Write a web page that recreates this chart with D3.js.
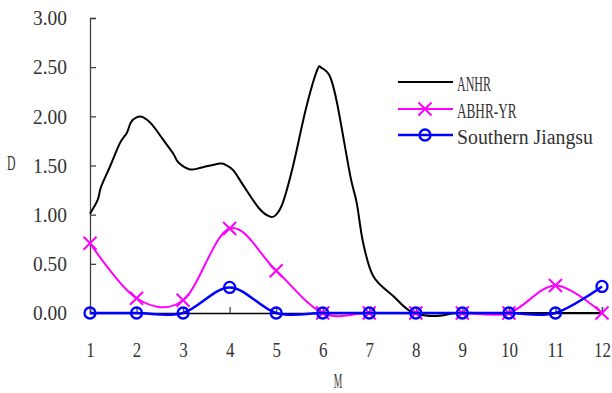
<!DOCTYPE html>
<html>
<head>
<meta charset="utf-8">
<script src="https://cdn.jsdelivr.net/npm/d3@7"></script>
<style>
  html, body { margin: 0; padding: 0; background: #fff; }
  svg { display: block; }
</style>
</head>
<body>
<svg class="chart" width="612" height="393"></svg>
<script>
// months on the x axis
var months = [1, 2, 3, 4, 5, 6, 7, 8, 9, 10, 11, 12];
var yTicks = [0, 0.5, 1, 1.5, 2, 2.5, 3];

// ANHR is a dense series (month position, D)
var anhrM = [1.00, 1.165, 1.236, 1.43, 1.645, 1.79, 1.88, 2.00, 2.145, 2.325, 2.575, 2.79, 2.90,
             3.15, 3.40, 3.79, 3.90, 4.08, 4.29, 4.64, 4.87, 5.00, 5.15, 5.37, 5.64, 5.88, 5.98,
             6.16, 6.31, 6.59, 6.73, 6.87, 7.09, 7.52, 7.875, 8.30, 8.63, 8.88, 9.5, 10, 11, 12];
var anhrD = [1.01, 1.15, 1.28, 1.49, 1.73, 1.83, 1.94, 1.99, 1.99, 1.92, 1.76, 1.62, 1.53,
             1.46, 1.48, 1.52, 1.51, 1.45, 1.30, 1.06, 0.98, 1.00, 1.13, 1.51, 2.08, 2.47, 2.49,
             2.40, 2.13, 1.40, 1.12, 0.71, 0.37, 0.17, 0.02, -0.03, -0.02, 0.00, 0.00, 0.00, 0.00, 0.00];

// monthly series with markers
var abhrYR = [0.71, 0.15, 0.13, 0.86, 0.43, 0, 0, 0, 0, 0, 0.28, 0];
var southernJiangsu = [0, 0, 0, 0.26, 0, 0, 0, 0, 0, 0, 0, 0.27];

var seriesNames = ["ANHR", "ABHR-YR", "Southern Jiangsu"];
var seriesColors = ["#000000", "#ff00ff", "#0000ff"];

var svg = d3.select("svg.chart");
var charW = 8.5; // SimSun-like half width glyph advance

// tall, narrow glyphs like the original font
function fitText(sel) {
    sel.each(function() {
        var t = d3.select(this);
        t.style("font-family", "'Liberation Serif', 'DejaVu Serif', serif")
         .style("font-size", "20px")
         .style("fill", "#333")
         .attr("textLength", t.text().length * charW)
         .attr("lengthAdjust", "spacingAndGlyphs");
    });
}

var x = d3.scaleLinear().domain([1, 12]).range([90, 602]);
var y = d3.scaleLinear().domain([0, 3]).range([313, 18]);

// axes
var yAxis = d3.axisLeft(y).tickValues(yTicks).tickSize(-6).tickPadding(23)
    .tickFormat(d3.format(".2f"));
var gy = svg.append("g").attr("transform", "translate(90,0)").call(yAxis);
gy.attr("font-family", null).attr("font-size", null);
gy.select(".domain").attr("stroke", "#444").attr("stroke-width", 1.3);
gy.selectAll(".tick line").attr("stroke", "#444").attr("stroke-width", 1.3);
gy.selectAll("text").attr("dy", "0.34em").call(fitText);

var xAxis = d3.axisBottom(x).tickValues(months).tickSize(-6).tickPadding(30)
    .tickFormat(d3.format("d"));
var gx = svg.append("g").attr("transform", "translate(0,313)").call(xAxis);
gx.attr("font-family", null).attr("font-size", null);
gx.select(".domain").attr("stroke", "#000").attr("stroke-width", 1.3);
gx.selectAll(".tick line").attr("stroke", "#444").attr("stroke-width", 1.3);
gx.selectAll("text").attr("dy", "0.71em").call(fitText);

// axis titles
svg.append("text").attr("x", 338).attr("y", 388).attr("text-anchor", "middle").text("M").call(fitText);
svg.append("text").attr("x", 7).attr("y", 170).text("D").call(fitText);

var line = d3.line().curve(d3.curveCardinal.tension(0));

// ANHR
svg.append("path")
    .attr("d", line(anhrM.map(function(m, i) { return [x(m), y(anhrD[i])]; })))
    .attr("fill", "none").attr("stroke", seriesColors[0]).attr("stroke-width", 2);

// ABHR-YR
svg.append("path")
    .attr("d", line(months.map(function(m, i) { return [x(m), y(abhrYR[i])]; })))
    .attr("fill", "none").attr("stroke", seriesColors[1]).attr("stroke-width", 2);

function cross(g, cx, cy, color) {
    var s = 6.5;
    g.append("path")
        .attr("d", "M" + (cx - s) + "," + (cy - s) + "L" + (cx + s) + "," + (cy + s) +
                   "M" + (cx - s) + "," + (cy + s) + "L" + (cx + s) + "," + (cy - s))
        .attr("stroke", color).attr("stroke-width", 2).attr("fill", "none");
}
var gCross = svg.append("g");
months.forEach(function(m, i) { cross(gCross, x(m), y(abhrYR[i]), seriesColors[1]); });

// Southern Jiangsu
svg.append("path")
    .attr("d", line(months.map(function(m, i) { return [x(m), y(southernJiangsu[i])]; })))
    .attr("fill", "none").attr("stroke", seriesColors[2]).attr("stroke-width", 2.5);

svg.append("g").selectAll("circle")
    .data(months)
    .enter().append("circle")
        .attr("cx", function(d) { return x(d); })
        .attr("cy", function(d, i) { return y(southernJiangsu[i]); })
        .attr("r", 5.5)
        .attr("fill", "none")
        .attr("stroke", seriesColors[2])
        .attr("stroke-width", 2.3);

// legend
var legendY = [82, 109, 135];
var legend = svg.append("g");
seriesNames.forEach(function(name, i) {
    legend.append("line")
        .attr("x1", 398).attr("x2", 453).attr("y1", legendY[i]).attr("y2", legendY[i])
        .attr("stroke", seriesColors[i]).attr("stroke-width", i === 2 ? 2.5 : 2);
    if (i === 1) cross(legend, 425, legendY[i], seriesColors[i]);
    if (i === 2) legend.append("circle").attr("cx", 425).attr("cy", legendY[i]).attr("r", 5.5)
        .attr("fill", "none").attr("stroke", seriesColors[i]).attr("stroke-width", 2.3);
    legend.append("text").attr("x", 457).attr("y", legendY[i] + 8.5).text(name).call(fitText);
});
</script>
</body>
</html>
